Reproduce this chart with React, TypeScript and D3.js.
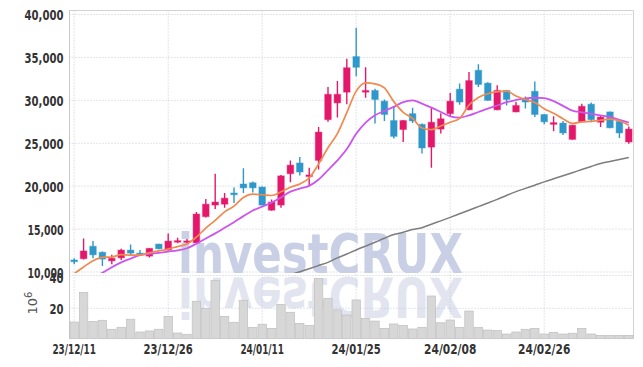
import React from 'react';
import * as d3 from 'd3';

const dateLabels = ['23/12/11', '23/12/26', '24/01/11', '24/01/25', '24/02/08', '24/02/26'];
const labelIndex = [0, 10, 20, 30, 40, 50];

const opens = [11400, 11550, 13000, 12300, 11300, 11650, 12550, 12200, 11850, 13250, 12550, 13600, 13580, 13400, 16450, 17800, 17900, 19200, 20250, 20400, 19900, 17200, 17800, 21450, 22700, 21200, 23000, 27750, 29700, 30950, 35100, 30950, 31150, 29900, 27650, 26600, 28450, 27200, 24550, 26650, 28450, 31300, 28900, 33500, 32000, 28900, 31150, 28650, 30200, 31050, 28350, 27200, 27350, 25450, 27500, 29550, 27450, 28650, 27550, 25150];
const highs = [11600, 13900, 13600, 12400, 12000, 12700, 13200, 12550, 12800, 13300, 14500, 14000, 13850, 17000, 18500, 21450, 19200, 19850, 22100, 20550, 19950, 18450, 21300, 23000, 23400, 22150, 26900, 31550, 32250, 34850, 38450, 33850, 31350, 30100, 29300, 27700, 29150, 27300, 29150, 28500, 30850, 31950, 33300, 34200, 32100, 31750, 31200, 29800, 30450, 32200, 28400, 28150, 27600, 27150, 29600, 29750, 28250, 28700, 27600, 26950];
const lows = [10900, 11450, 11600, 10700, 10900, 11400, 11850, 11900, 11700, 12650, 12500, 13350, 13350, 13300, 16350, 17350, 17500, 18050, 19200, 19250, 17750, 17150, 17500, 20450, 21250, 20050, 21950, 27500, 28000, 29550, 32800, 30300, 27300, 27600, 25550, 25150, 27350, 23800, 22150, 26150, 28050, 29500, 28850, 31550, 29950, 28850, 29400, 28600, 29050, 28050, 27200, 26400, 25950, 25400, 27450, 27450, 26900, 26750, 25600, 24950];
const closes = [11200, 12450, 12000, 11500, 11600, 12550, 12200, 12100, 12750, 12700, 13600, 13650, 13620, 16750, 17900, 18150, 18600, 19000, 19800, 19800, 17800, 18150, 21200, 22450, 21650, 21300, 26300, 30700, 30700, 33800, 33850, 31150, 30100, 28350, 25800, 27650, 27600, 24450, 27450, 27850, 29900, 29800, 32300, 31850, 30000, 31150, 30100, 29400, 29800, 28350, 27500, 27400, 26200, 27100, 29300, 27750, 28050, 26800, 26200, 26650];
const volumes = [11.0, 30.5, 11.4, 12.1, 6.2, 7.5, 12.8, 4.4, 5.1, 6.2, 14.7, 3.75, 2.9, 24.6, 20.0, 38.4, 14.7, 10.8, 25.3, 7.5, 9.5, 6.8, 22.6, 17.4, 10.1, 8.8, 39.7, 26.6, 18.9, 15.6, 25.5, 13.4, 11.6, 6.8, 9.7, 8.8, 6.4, 7.5, 28.1, 10.5, 12.3, 7.5, 18.2, 7.5, 5.7, 5.3, 3.1, 4.4, 6.2, 6.8, 3.1, 4.2, 3.1, 3.6, 6.8, 3.1, 2.2, 2.2, 2.2, 2.2];

const ma5 = [9800, 10580, 11310, 11700, 11750, 12020, 11970, 11990, 12240, 12460, 12670, 12960, 13264, 14064, 15104, 16014, 17004, 17680, 18690, 19070, 19000, 18910, 19350, 19880, 20250, 20950, 22580, 24480, 26130, 28560, 31070, 32040, 31920, 31450, 29850, 28610, 27900, 26770, 26590, 27000, 27450, 27890, 29460, 30340, 30770, 31020, 31080, 30500, 30090, 29760, 29030, 28490, 27850, 27310, 27500, 27550, 27680, 27800, 27620, 27090];
const ma10 = [null, null, 9300, 9900, 10555, 11125, 11555, 11970, 12110, 12240, 12380, 12520, 12765, 13300, 13900, 14500, 15150, 15800, 16510, 17170, 17614, 18100, 18680, 19360, 19720, 20030, 20770, 21860, 23000, 24325, 26100, 27400, 28255, 28755, 29240, 29800, 30000, 29615, 29150, 28640, 28140, 27990, 28255, 28640, 29035, 29400, 29780, 30035, 30230, 30300, 30255, 29905, 29360, 28800, 28600, 28430, 28245, 28060, 27730, 27400];
const ma60 = [null, null, null, null, null, null, null, null, null, null, null, null, null, null, null, null, null, null, null, null, null, null, 9360, 9690, 10030, 10380, 10750, 11125, 11650, 12090, 12570, 13020, 13460, 13930, 14360, 14625, 14940, 15160, 15570, 15960, 16360, 16780, 17200, 17615, 18030, 18460, 18920, 19360, 19740, 20115, 20500, 20860, 21210, 21570, 21940, 22300, 22640, 22880, 23115, 23335];

const priceTicks = [10000, 15000, 20000, 25000, 30000, 35000, 40000];
const volTicks = [20, 40];

const UP = '#e4186b';
const DOWN = '#2f97c9';
const LABEL_FONT = "'DejaVu Sans Condensed', 'DejaVu Sans', sans-serif";

// approximate rendered width of the reference's narrow label font (proportional digits)
const labelWidth = (s: string) =>
  s.split('').reduce((w, ch) => w + (ch === '1' ? 4.1 : ch === '/' ? 5.1 : ch === ',' ? 4 : 7), 0);

export default function App() {
  const W = 643, H = 367;
  const left = 69.5, right = 633.5;
  const priceTop = 10.5, priceBottom = 273;
  const volTop = 275.5, volBottom = 338.7;
  const n = closes.length;

  const x = d3.scaleBand<number>().domain(d3.range(n)).range([left, right]).padding(0);
  const bw = x.bandwidth();
  const cx = (i: number) => (x(i) as number) + bw / 2;
  const y = d3.scaleLinear().domain([10000, 40000]).range([272, 14.5]);
  const yv = d3.scaleLinear().domain([0, 20]).range([volBottom, 308.3]);
  const fmt = d3.format(',');

  const mkLine = (arr: (number | null)[]) =>
    d3.line<number | null>()
      .defined((d) => d != null)
      .x((_d, i) => cx(i))
      .y((d) => y(d as number))
      .curve(d3.curveMonotoneX)(arr) || '';

  const bodyW = 6.6;
  const grid = '#c6cbdc';
  const labelProps = {
    fontFamily: LABEL_FONT,
    fontSize: 14,
    fontWeight: 'bold' as const,
    fill: '#333',
    lengthAdjust: 'spacingAndGlyphs',
  };

  return (
    <div style={{ position: 'absolute', left: 0, top: 0 }}>
      <svg width={W} height={H} viewBox={`0 0 ${W} ${H}`} style={{ display: 'block', background: '#fff' }}>
        <defs>
          <clipPath id="priceClip">
            <rect x={left} y={priceTop} width={right - left} height={priceBottom - priceTop} />
          </clipPath>
          <clipPath id="volClip">
            <rect x={left} y={volTop} width={right - left} height={volBottom - volTop} />
          </clipPath>
        </defs>

        {/* watermark */}
        <g clipPath="url(#priceClip)">
          <text x={178} y={273} fontFamily="'DejaVu Sans', sans-serif" fontWeight="bold" fontSize={56}
            textLength={285} lengthAdjust="spacingAndGlyphs" fill="#c9d0e6">investCRUX</text>
        </g>
        <g clipPath="url(#volClip)">
          <g transform={`translate(0, ${2 * 275.5}) scale(1,-1)`}>
            <text x={178} y={273} fontFamily="'DejaVu Sans', sans-serif" fontWeight="bold" fontSize={56}
              textLength={285} lengthAdjust="spacingAndGlyphs" fill="#e2e5ef">investCRUX</text>
          </g>
        </g>

        {/* horizontal grid price */}
        {priceTicks.map((t) => (
          <line key={'pg' + t} x1={left} x2={right} y1={y(t)} y2={y(t)} stroke={grid} strokeDasharray="1,2" />
        ))}
        {/* volume grid */}
        <line x1={left} x2={right} y1={yv(20)} y2={yv(20)} stroke={grid} strokeDasharray="1,2" />
        <line x1={left} x2={right} y1={volTop} y2={volTop} stroke={grid} strokeDasharray="1,2" />
        {/* vertical grid */}
        {labelIndex.map((i) => (
          <line key={'vg' + i} x1={cx(i)} x2={cx(i)} y1={priceTop} y2={volBottom} stroke={grid} strokeDasharray="1,2" />
        ))}

        {/* borders */}
        <line x1={left} x2={right} y1={priceTop} y2={priceTop} stroke="#d2d2d2" />
        <line x1={left} x2={left} y1={priceTop} y2={volBottom} stroke="#c8c8c8" />
        <line x1={right} x2={right} y1={priceTop} y2={volBottom} stroke="#d2d2d2" />

        {/* volume bars */}
        <g>
          {volumes.map((v, i) => (
            <rect key={'v' + i} x={(x(i) as number) + 0.5} y={yv(v)} width={bw - 1} height={volBottom - yv(v)}
              fill="#d7d7d7" stroke="#bfbfbf" strokeWidth={0.7} />
          ))}
        </g>

        {/* candles */}
        <g clipPath="url(#priceClip)">
          {closes.map((c, i) => {
            const o = opens[i];
            const up = c >= o;
            const col = up ? UP : DOWN;
            const top = y(Math.max(o, c));
            const bot = y(Math.min(o, c));
            const h = Math.max(bot - top, 1.5);
            return (
              <g key={'c' + i}>
                <line x1={cx(i)} x2={cx(i)} y1={y(highs[i])} y2={y(lows[i])} stroke={col} strokeWidth={1.4} />
                <rect x={cx(i) - bodyW / 2} y={top} width={bodyW} height={h} fill={col}
                  stroke={col} strokeOpacity={0.35} strokeWidth={1.2} />
              </g>
            );
          })}
        </g>

        {/* moving averages */}
        <g clipPath="url(#priceClip)" fill="none">
          <path d={mkLine(ma60)} stroke="#7d7d7d" strokeWidth={1.5} />
          <path d={mkLine(ma10)} stroke="#cc55ee" strokeWidth={1.8} />
          <path d={mkLine(ma5)} stroke="#f08a4e" strokeWidth={1.7} />
        </g>

        {/* y labels */}
        {priceTicks.map((t) => {
          const s = fmt(t);
          const w = labelWidth(s);
          return (
            <text key={'pl' + t} x={63.5 - w} y={y(t) + 1.8} dominantBaseline="middle"
              textLength={w} {...labelProps}>{s}</text>
          );
        })}
        {volTicks.map((t) => {
          const s = String(t);
          const w = labelWidth(s);
          return (
            <text key={'vl' + t} x={63.5 - w} y={yv(t) + 1.5} dominantBaseline="middle"
              textLength={w} {...labelProps}>{s}</text>
          );
        })}
        <text transform="translate(37, 303) rotate(-90)" textAnchor="middle" fontFamily="'DejaVu Sans', sans-serif" fontSize={13} fill="#555">
          10<tspan dy={-5} fontSize={10}>6</tspan>
        </text>

        {/* x labels */}
        {labelIndex.map((i, k) => {
          const s = dateLabels[k];
          const w = labelWidth(s);
          return (
            <text key={'xl' + i} x={cx(i) - w / 2} y={354} textLength={w} {...labelProps}>{s}</text>
          );
        })}
      </svg>
    </div>
  );
}
